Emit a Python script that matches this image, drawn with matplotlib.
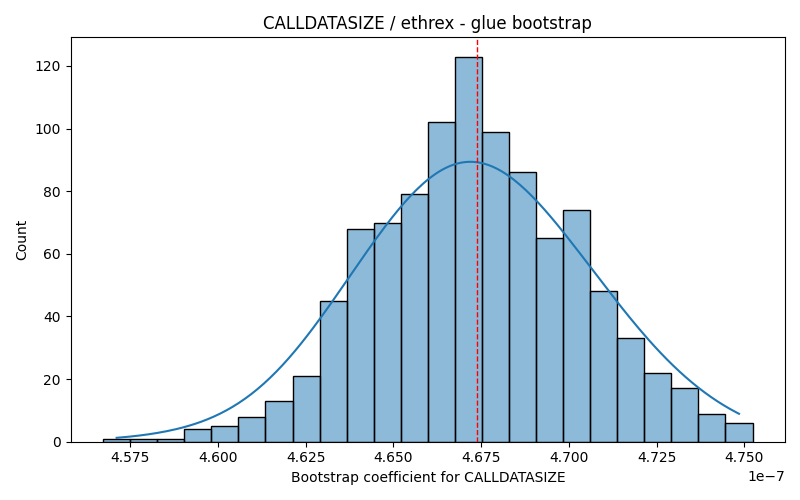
import numpy as np
import pandas as pd
import matplotlib
matplotlib.use("Agg")
import matplotlib.pyplot as plt
import seaborn as sns

counts = [1, 1, 1, 4, 5, 8, 13, 21, 45, 68, 70, 79, 102, 123, 99, 86, 65, 74, 48, 33, 22, 17, 9, 6]
x_start = 4.5673e-7
x_end = 4.7523e-7
ref_line = 4.6738e-7

edges = np.linspace(x_start, x_end, len(counts) + 1)
centers = (edges[:-1] + edges[1:]) / 2
df = pd.DataFrame({"x": centers, "w": counts})

fig, ax = plt.subplots(figsize=(8, 5), dpi=100)
sns.histplot(data=df, x="x", weights="w", bins=len(counts),
             binrange=(x_start, x_end), kde=True, ax=ax)
ax.axvline(ref_line, color="red", linestyle="--", linewidth=1)
ax.set_title("CALLDATASIZE / ethrex - glue bootstrap")
ax.set_xlabel("Bootstrap coefficient for CALLDATASIZE")
ax.set_ylabel("Count")
fig.tight_layout()
fig.savefig("out.png")
